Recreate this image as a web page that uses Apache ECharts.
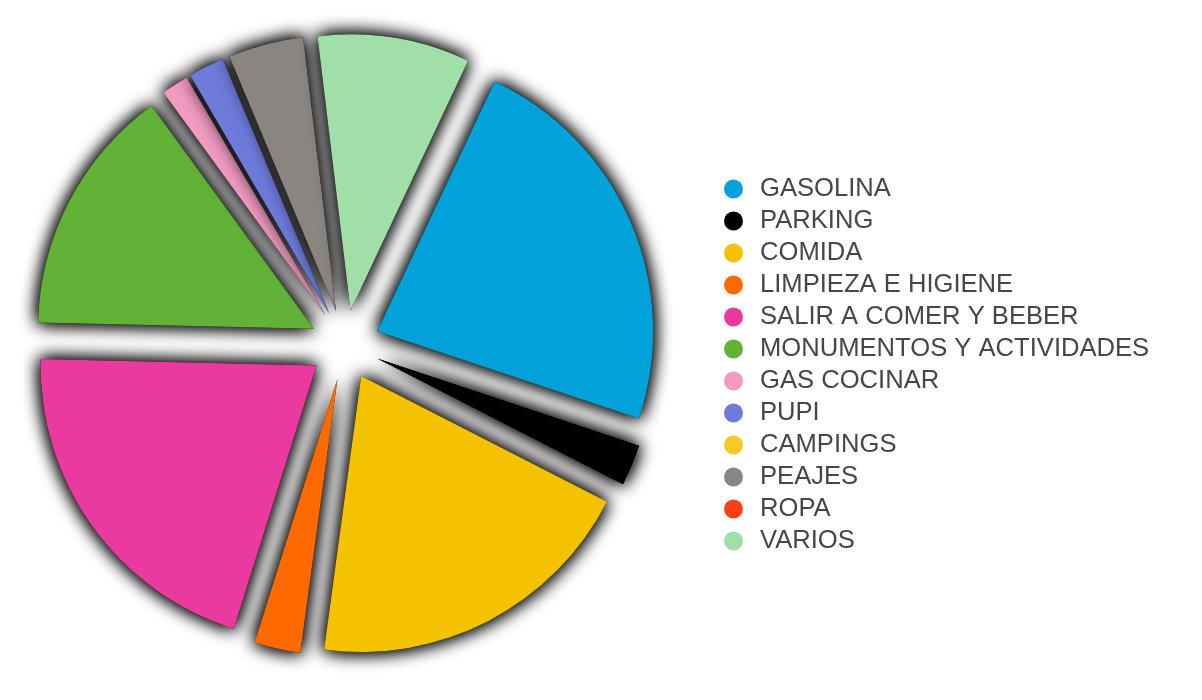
<!DOCTYPE html>
<html>
<head>
<meta charset="utf-8">
<script src="https://cdn.jsdelivr.net/npm/echarts@6/dist/echarts.min.js"></script>
<style>
html,body{margin:0;padding:0;background:#fff;}
#chart{width:1202px;height:700px;}
</style>
</head>
<body>
<div id="chart"></div>
<script>
const categories = ['GASOLINA','PARKING','COMIDA','LIMPIEZA E HIGIENE','SALIR A COMER Y BEBER','MONUMENTOS Y ACTIVIDADES','GAS COCINAR','PUPI','CAMPINGS','PEAJES','ROPA','VARIOS'];
const values = [23.1, 2.4, 19.6, 2.7, 20.5, 14.6, 1.6, 2.1, 0, 4.4, 0, 8.9];
const colors = ['#00A3D9','#000000','#F5C200','#FF6A00','#EA3A9F','#61B236','#F29AC2','#6E7BDB','#F7C926','#8A8580','#FF4017','#A0DFA8'];

function makeData(shadowLayer) {
  return categories.map((name, i) => {
    const c = shadowLayer ? '#000000' : colors[i];
    return {
      name: name,
      value: values[i],
      selected: true,
      itemStyle: { color: c },
      select: { itemStyle: { color: c } }
    };
  });
}

const pieBase = {
  type: 'pie',
  center: [345, 345],
  radius: 276,
  startAngle: 64.8,
  clockwise: true,
  selectedMode: 'multiple',
  selectedOffset: 35,
  label: { show: false },
  labelLine: { show: false },
  emphasis: { disabled: true },
  itemStyle: {
    shadowBlur: 18,
    shadowColor: 'rgba(0,0,0,1)',
    borderWidth: 0
  }
};

const chart = echarts.init(document.getElementById('chart'));
chart.setOption({
  animation: false,
  backgroundColor: '#ffffff',
  legend: {
    orient: 'vertical',
    left: 719,
    top: 171,
    icon: 'circle',
    itemWidth: 19,
    itemHeight: 19,
    itemGap: 6,
    selectedMode: false,
    data: categories.map((c, i) => ({ name: c, itemStyle: { color: colors[i] } })),
    textStyle: {
      fontFamily: 'Liberation Sans, Arial, sans-serif',
      fontSize: 25.6,
      color: '#464646',
      padding: [0, 0, 0, 12]
    }
  },
  series: [
    Object.assign({}, pieBase, { name: 'shadow', z: 1, silent: true, data: makeData(true) }),
    Object.assign({}, pieBase, { name: 'gastos', z: 2, data: makeData(false) })
  ]
});
</script>
</body>
</html>
